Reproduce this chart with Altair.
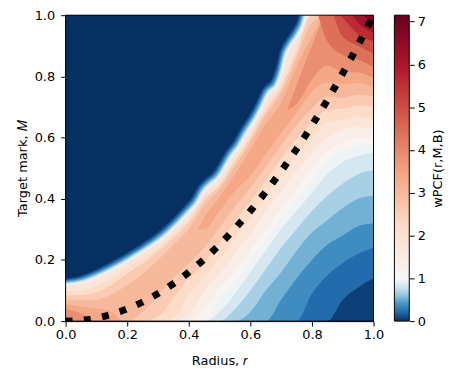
import altair as alt
import pandas as pd

# ---------------- data ----------------
# stations along the radius axis
r_st = [0.0, 0.05, 0.1, 0.15, 0.2, 0.25, 0.3, 0.35, 0.4, 0.45, 0.5,
        0.55, 0.6, 0.65, 0.7, 0.75, 0.8, 0.85, 0.9, 0.95, 1.0]

# lower contours of the blue (bottom-right) region: M where wPCF reaches the level
blue_levels = [0.15, 0.3, 0.45, 0.6, 0.75, 0.9, 1.0]
blue_fill = [0.22, 0.37, 0.52, 0.67, 0.82, 0.95, 1.12]
blue_lo = [
    [0, 0, 0, 0, 0, 0, 0, 0, 0, 0, 0, 0, 0, 0, 0, 0, 0, 0, 0.07, 0.11, 0.14],
    [0, 0, 0, 0, 0, 0, 0, 0, 0, 0, 0, 0, 0, 0, 0, 0, 0.09, 0.15, 0.19, 0.22, 0.24],
    [0, 0, 0, 0, 0, 0, 0, 0, 0, 0, 0, 0, 0, 0, 0.07, 0.14, 0.2, 0.25, 0.28, 0.31, 0.32],
    [0, 0, 0, 0, 0, 0, 0, 0, 0, 0, 0, 0, 0.03, 0.1, 0.16, 0.23, 0.29, 0.33, 0.37, 0.4, 0.41],
    [0, 0, 0, 0, 0, 0, 0, 0, 0, 0, 0, 0.04, 0.1, 0.17, 0.24, 0.3, 0.36, 0.41, 0.45, 0.48, 0.495],
    [0, 0, 0, 0, 0, 0, 0, 0, 0, 0, 0.03, 0.09, 0.16, 0.23, 0.3, 0.36, 0.42, 0.48, 0.52, 0.54, 0.55],
    [0, 0, 0, 0, 0, 0, 0, 0, 0, 0, 0.07, 0.13, 0.2, 0.27, 0.33, 0.4, 0.46, 0.52, 0.555, 0.572, 0.58],
]

# red band: level, fill value, lower and upper contour at every station
band_levels = [1.25, 1.6, 2.0, 2.4, 2.8]
band_fill = [1.42, 1.8, 2.2, 2.6, 3.0]
band_lo = [
    [0, 0, 0, 0, 0, 0, 0, 0, 0, 0.04, 0.11, 0.165, 0.23, 0.3, 0.37, 0.43, 0.5, 0.555, 0.585, 0.598, 0.6],
    [0, 0, 0, 0, 0, 0, 0, 0, 0.02, 0.095, 0.155, 0.22, 0.285, 0.355, 0.425, 0.49, 0.55, 0.6, 0.625, 0.635, 0.625],
    [0, 0, 0, 0, 0, 0, 0, 0.01, 0.085, 0.145, 0.205, 0.275, 0.34, 0.41, 0.48, 0.545, 0.6, 0.65, 0.66, 0.669, 0.66],
    [0, 0, 0, 0, 0, 0, 0.015, 0.075, 0.14, 0.19, 0.255, 0.325, 0.39, 0.46, 0.53, 0.595, 0.65, 0.69, 0.695, 0.705, 0.7],
    [0, 0, 0, 0, 0, 0.03, 0.085, 0.14, 0.19, 0.24, 0.305, 0.375, 0.435, 0.505, 0.575, 0.64, 0.695, 0.735, 0.73, 0.74, 0.735],
]
band_hi = [
    [1.0] * 21,
    [1.0] * 21,
    [0.096, 0.1, 0.113, 0.14, 0.174, 0.204, 0.241, 0.284, 0.334, 0.405, 0.452, 0.53, 0.608, 0.698, 0.775, 0.892, 1, 1, 1, 1, 1],
    [0.084, 0.085, 0.094, 0.12, 0.156, 0.188, 0.228, 0.272, 0.322, 0.395, 0.443, 0.52, 0.598, 0.687, 0.762, 0.877, 1, 1, 1, 1, 1],
    [0.07, 0.068, 0.07, 0.088, 0.118, 0.155, 0.2, 0.25, 0.302, 0.378, 0.43, 0.506, 0.584, 0.672, 0.745, 0.857, 0.975, 1, 1, 1, 1],
]

# higher levels only exist in pieces (bottom-left corner, ridge, top-right corner)
peak_pieces = [
    # (fill value, r, lower M, upper M)
    (3.4, [0, 0.05, 0.1, 0.15, 0.18], [0, 0, 0, 0, 0], [0.056, 0.048, 0.042, 0.03, 0]),
    (3.4, [0.43, 0.45, 0.5, 0.55, 0.6, 0.65, 0.7, 0.75, 0.8, 0.85, 0.9, 0.95, 1.0],
          [0.3, 0.3, 0.36, 0.425, 0.475, 0.545, 0.615, 0.68, 0.75, 0.78, 0.775, 0.778, 0.765],
          [0.3, 0.34, 0.405, 0.48, 0.56, 0.645, 0.715, 0.83, 0.93, 1, 1, 1, 1]),
    (3.85, [0, 0.05, 0.09], [0, 0, 0], [0.04, 0.025, 0]),
    (3.85, [0.72, 0.75, 0.8, 0.85, 0.9, 0.95, 1.0],
           [0.69, 0.71, 0.79, 0.835, 0.815, 0.813, 0.795],
           [0.69, 0.77, 0.9, 1, 1, 1, 1]),
    (4.4, [0, 0.025], [0, 0], [0.015, 0]),
    (4.4, [0.82, 0.85, 0.9, 0.95, 1.0], [1.0, 0.915, 0.87, 0.855, 0.83], [1, 1, 1, 1, 1]),
    (5.0, [0.87, 0.9, 0.95, 1.0], [1.0, 0.93, 0.9, 0.875], [1, 1, 1, 1]),
    (5.6, [0.895, 0.95, 1.0], [1.0, 0.938, 0.915], [1, 1, 1]),
    (6.2, [0.93, 0.95, 1.0], [1.0, 0.975, 0.943], [1, 1, 1]),
    (6.85, [0.965, 1.0], [1.0, 0.975], [1, 1]),
]

# upper edge of the zero region (dark blue, top-left)
edge_r = [0.00, 0.065, 0.13, 0.19, 0.26, 0.32, 0.37, 0.40, 0.43, 0.45, 0.47, 0.50, 0.52,
          0.54, 0.565, 0.59, 0.618, 0.64, 0.66, 0.69, 0.705, 0.715, 0.73, 0.758, 0.774, 0.782]
edge_m = [0.117, 0.127, 0.154, 0.186, 0.229, 0.271, 0.318, 0.35, 0.385, 0.42, 0.442, 0.468, 0.5,
          0.535, 0.568, 0.612, 0.656, 0.698, 0.74, 0.773, 0.816, 0.859, 0.892, 0.935, 0.968, 1.0]
edge_shift = [0.0, 0.004, 0.008, 0.012, 0.016, 0.02]
edge_value = [0.95, 0.75, 0.5, 0.3, 0.12, 0.0]
base_value = 0.06

# dotted reference curve
curve_r = [0.0, 0.05, 0.1, 0.15, 0.2, 0.25, 0.3, 0.35, 0.4, 0.45, 0.5, 0.55, 0.6, 0.65, 0.7,
           0.75, 0.8, 0.85, 0.9, 0.95, 1.0]
curve_m = [0.0, 0.0025, 0.01, 0.0225, 0.04, 0.0625, 0.09, 0.1225, 0.16, 0.2025, 0.25, 0.3025,
           0.36, 0.4225, 0.49, 0.5625, 0.64, 0.7225, 0.81, 0.9025, 1.0]

axis_ticks = [0, 0.2, 0.4, 0.6, 0.8, 1.0]
cbar_ticks = [0, 1, 2, 3, 4, 5, 6, 7]
vmax = 7.15
color_domain = [0, 0.2, 0.4, 0.6, 0.8, 1.0, 2.23, 3.46, 4.69, 5.92, vmax]
color_range = ["#053061", "#2166ac", "#4393c3", "#92c5de", "#d1e5f0", "#f7f7f7",
               "#fddbc7", "#f4a582", "#d6604d", "#b2182b", "#67001f"]

FONT = "DejaVu Sans"
FS = 13

# ---------------- chart ----------------
cscale = alt.Scale(domain=color_domain, range=color_range, interpolate="rgb")
xscale = alt.Scale(domain=[0, 1], nice=False, zero=False, padding=0)
yscale = alt.Scale(domain=[0, 1], nice=False, zero=False, padding=0)
xaxis = alt.Axis(values=axis_ticks, format=".1f", title="Radius, 𝑟", titlePadding=13,
                 labelFlush=False, labelOverlap=False)
yaxis = alt.Axis(values=axis_ticks, format=".1f", title="Target mark, 𝑀",
                 labelPadding=6, titlePadding=5, labelFlush=False, labelOverlap=False)


def band_area(r, lo, hi, w):
    df = pd.DataFrame({"r": r, "lo": lo, "hi": hi, "w": [w] * len(r)})
    return alt.Chart(df).mark_area(clip=True, interpolate="monotone").encode(
        x=alt.X("r:Q", scale=xscale, axis=xaxis),
        y=alt.Y("lo:Q", scale=yscale, axis=yaxis),
        y2="hi:Q",
        color=alt.Color("w:Q", scale=cscale, legend=None),
    )


layers = []
base_df = pd.DataFrame({"r": [0.0], "r2": [1.0], "lo": [0.0], "hi": [1.0], "w": [base_value]})
layers.append(alt.Chart(base_df).mark_rect().encode(
    x=alt.X("r:Q", scale=xscale, axis=xaxis), x2="r2:Q",
    y=alt.Y("lo:Q", scale=yscale, axis=yaxis), y2="hi:Q",
    color=alt.Color("w:Q", scale=cscale, legend=None)))

for lo, w in zip(blue_lo, blue_fill):
    layers.append(band_area(r_st, lo, [1.0] * len(r_st), w))
for lo, hi, w in zip(band_lo, band_hi, band_fill):
    layers.append(band_area(r_st, lo, hi, w))
for w, r, lo, hi in peak_pieces:
    layers.append(band_area(r, lo, hi, w))

for d, v in zip(edge_shift, edge_value):
    edf = pd.DataFrame({"r": [x - d for x in edge_r], "m": [y + d for y in edge_m],
                        "top": [1.05] * len(edge_r), "w": [v] * len(edge_r)})
    layers.append(alt.Chart(edf).mark_area(clip=True, interpolate="monotone").encode(
        x=alt.X("r:Q", scale=xscale, axis=xaxis),
        y=alt.Y("m:Q", scale=yscale, axis=yaxis),
        y2="top:Q",
        color=alt.Color("w:Q", scale=cscale, legend=None),
    ))

curve_df = pd.DataFrame({"r": curve_r, "m": curve_m})
layers.append(alt.Chart(curve_df).mark_line(
    clip=True, color="black", strokeWidth=7, strokeDash=[7, 11.5], strokeCap="butt",
    interpolate="monotone"
).encode(x=alt.X("r:Q", scale=xscale, axis=xaxis), y=alt.Y("m:Q", scale=yscale, axis=yaxis)))

frame_df = pd.DataFrame({"r": [0.0], "r2": [1.0], "lo": [0.0], "hi": [1.0]})
layers.append(alt.Chart(frame_df).mark_rect(
    fillOpacity=0, stroke="black", strokeWidth=1
).encode(x=alt.X("r:Q", scale=xscale, axis=xaxis), x2="r2:Q",
         y=alt.Y("lo:Q", scale=yscale, axis=yaxis), y2="hi:Q"))

main = alt.layer(*layers).properties(width=310, height=308)

stops = [alt.GradientStop(offset=v / vmax, color=c) for v, c in zip(color_domain, color_range)]
grad = alt.LinearGradient(gradient="linear", stops=stops, x1=0, x2=0, y1=1, y2=0)
cbar = alt.Chart(pd.DataFrame({"lo": [0.0], "hi": [vmax]})).mark_rect(
    fill=grad, stroke="black", strokeWidth=1
).encode(
    x=alt.value(0), x2=alt.value(15),
    y=alt.Y("lo:Q", scale=alt.Scale(domain=[0, vmax], nice=False, zero=False, padding=0),
            axis=alt.Axis(orient="right", values=cbar_ticks, format="d",
                          title="wPCF(r,M,B)", titleAngle=270, titleBaseline="top",
                          titlePadding=6, domain=False, labelFlush=False)),
    y2="hi:Q",
).properties(width=15, height=308)

chart = alt.hconcat(main, cbar, spacing=21, bounds="flush").configure_view(
    stroke=None
).configure_axis(
    grid=False, domainColor="black", tickColor="black", labelColor="black",
    titleColor="black", labelFont=FONT, titleFont=FONT, labelFontSize=FS,
    titleFontSize=FS, titleFontWeight="normal", tickSize=5, labelPadding=3,
    titlePadding=6, domainWidth=1, tickWidth=1
).properties(padding={"left": 8, "top": 0, "right": 5, "bottom": 5})

chart.save("out.html", embed_options={"renderer": "svg", "actions": False})
